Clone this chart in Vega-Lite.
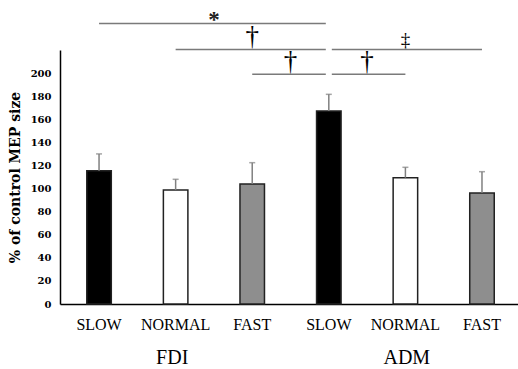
{
  "$schema": "https://vega.github.io/schema/vega-lite/v6.json",
  "width": 458,
  "height": 299,
  "autosize": {"type": "none"},
  "padding": {"left": 60, "top": 5, "right": 0, "bottom": 65},
  "background": "white",
  "config": {
    "view": {"stroke": null},
    "font": "Liberation Serif",
    "axisY": {"labelFont": "DejaVu Serif", "labelFontSize": 10, "labelFontWeight": "bold", "labelColor": "black", "labelOverlap": false, "ticks": false, "grid": false, "labelPadding": 9, "titlePadding": 8, "titleFont": "DejaVu Serif", "titleFontSize": 14, "titleFontWeight": "bold", "titleColor": "black", "domainColor": "black", "domainWidth": 1.5}
  },
  "datasets": {
    "bars": [
      {"muscle": "FDI", "speed": "SLOW", "cond": "FDI SLOW", "mean": 115.5, "upper": 130},
      {"muscle": "FDI", "speed": "NORMAL", "cond": "FDI NORMAL", "mean": 98.7, "upper": 108},
      {"muscle": "FDI", "speed": "FAST", "cond": "FDI FAST", "mean": 104, "upper": 122.4},
      {"muscle": "ADM", "speed": "SLOW", "cond": "ADM SLOW", "mean": 167.2, "upper": 181.6},
      {"muscle": "ADM", "speed": "NORMAL", "cond": "ADM NORMAL", "mean": 109.4, "upper": 118.4},
      {"muscle": "ADM", "speed": "FAST", "cond": "ADM FAST", "mean": 96.2, "upper": 114.6}
    ],
    "sig": [
      {"from": "FDI SLOW", "to": "ADM SLOW", "level": 243, "sym": "*"},
      {"from": "FDI NORMAL", "to": "ADM SLOW", "level": 220.5, "sym": "†"},
      {"from": "FDI FAST", "to": "ADM SLOW", "level": 199, "sym": "†"},
      {"from": "ADM SLOW", "to": "ADM FAST", "level": 220.5, "sym": "‡"},
      {"from": "ADM SLOW", "to": "ADM NORMAL", "level": 199, "sym": "†"}
    ]
  },
  "layer": [
    {
      "layer": [
        {
          "data": {"name": "bars"},
          "mark": {"type": "bar", "stroke": "#222222", "strokeWidth": 1.5},
          "encoding": {
            "x": {
              "field": "cond", "type": "nominal",
              "scale": {"domain": ["FDI SLOW", "FDI NORMAL", "FDI FAST", "ADM SLOW", "ADM NORMAL", "ADM FAST"], "paddingInner": 0.68, "paddingOuter": 0.33, "align": 0.53},
              "axis": {"title": null, "orient": "bottom", "labelExpr": "split(datum.value, ' ')[1]", "labelAngle": 0, "ticks": false, "labelPadding": 12, "labelFont": "Liberation Serif", "labelFontSize": 16, "labelColor": "black", "domainColor": "black", "domainWidth": 1.5}
            },
            "y": {
              "field": "mean", "type": "quantitative",
              "scale": {"domain": [0, 220], "range": [299, 45], "nice": false},
              "axis": {"values": [0, 20, 40, 60, 80, 100, 120, 140, 160, 180, 200], "title": "% of control MEP size", "labelOverlap": false}
            },
            "fill": {
              "field": "speed", "type": "nominal",
              "scale": {"domain": ["SLOW", "NORMAL", "FAST"], "range": ["#000000", "#ffffff", "#8e8e8e"]},
              "legend": null
            }
          }
        },
        {
          "data": {"name": "bars"},
          "mark": {"type": "rule", "color": "#808080", "strokeWidth": 1.5},
          "encoding": {
            "x": {"field": "cond", "type": "nominal"},
            "y": {"field": "mean", "type": "quantitative", "axis": {"values": [0, 20, 40, 60, 80, 100, 120, 140, 160, 180, 200], "title": "% of control MEP size", "labelOverlap": false}},
            "y2": {"field": "upper"}
          }
        },
        {
          "data": {"name": "bars"},
          "mark": {"type": "tick", "color": "#808080", "thickness": 1.5, "size": 6},
          "encoding": {
            "x": {"field": "cond", "type": "nominal"},
            "y": {"field": "upper", "type": "quantitative", "axis": {"values": [0, 20, 40, 60, 80, 100, 120, 140, 160, 180, 200], "title": "% of control MEP size", "labelOverlap": false}}
          }
        },
        {
          "data": {"name": "sig"},
          "transform": [{"filter": "datum.to == 'ADM SLOW'"}],
          "mark": {"type": "rule", "color": "#7a7a7a", "strokeWidth": 1.5, "x2Offset": -3},
          "encoding": {
            "x": {"field": "from", "type": "nominal"},
            "x2": {"field": "to"},
            "y": {"field": "level", "type": "quantitative", "axis": {"values": [0, 20, 40, 60, 80, 100, 120, 140, 160, 180, 200], "title": "% of control MEP size", "labelOverlap": false}}
          }
        },
        {
          "data": {"name": "sig"},
          "transform": [{"filter": "datum.from == 'ADM SLOW'"}],
          "mark": {"type": "rule", "color": "#7a7a7a", "strokeWidth": 1.5, "xOffset": 3},
          "encoding": {
            "x": {"field": "from", "type": "nominal"},
            "x2": {"field": "to"},
            "y": {"field": "level", "type": "quantitative", "axis": {"values": [0, 20, 40, 60, 80, 100, 120, 140, 160, 180, 200], "title": "% of control MEP size", "labelOverlap": false}}
          }
        }
      ]
    },
    {
      "data": {"name": "sig"},
      "transform": [
        {"filter": "datum.sym == '*'"},
        {"calculate": "(indexof(['FDI SLOW','FDI NORMAL','FDI FAST','ADM SLOW','ADM NORMAL','ADM FAST'], datum.from) + indexof(['FDI SLOW','FDI NORMAL','FDI FAST','ADM SLOW','ADM NORMAL','ADM FAST'], datum.to)) / 2", "as": "mid"}
      ],
      "mark": {"type": "text", "fontSize": 23, "fontWeight": "bold", "baseline": "alphabetic", "dy": 4, "font": "Liberation Serif", "color": "#222222"},
      "encoding": {
        "x": {"field": "mid", "type": "quantitative", "scale": {"domain": [-0.51, 5.47], "nice": false, "zero": false}, "axis": null},
        "y": {"field": "level", "type": "quantitative", "axis": {"values": [0, 20, 40, 60, 80, 100, 120, 140, 160, 180, 200], "title": "% of control MEP size", "labelOverlap": false}},
        "text": {"field": "sym"}
      }
    },
    {
      "data": {"name": "sig"},
      "transform": [
        {"filter": "datum.sym == '†'"},
        {"calculate": "(indexof(['FDI SLOW','FDI NORMAL','FDI FAST','ADM SLOW','ADM NORMAL','ADM FAST'], datum.from) + indexof(['FDI SLOW','FDI NORMAL','FDI FAST','ADM SLOW','ADM NORMAL','ADM FAST'], datum.to)) / 2", "as": "mid"}
      ],
      "mark": {"type": "text", "fontSize": 27, "baseline": "alphabetic", "dy": -4, "font": "Liberation Serif", "color": "black"},
      "encoding": {
        "x": {"field": "mid", "type": "quantitative", "scale": {"domain": [-0.51, 5.47], "nice": false, "zero": false}, "axis": null},
        "y": {"field": "level", "type": "quantitative", "axis": {"values": [0, 20, 40, 60, 80, 100, 120, 140, 160, 180, 200], "title": "% of control MEP size", "labelOverlap": false}},
        "text": {"field": "sym"}
      }
    },
    {
      "data": {"name": "sig"},
      "transform": [
        {"filter": "datum.sym == '‡'"},
        {"calculate": "(indexof(['FDI SLOW','FDI NORMAL','FDI FAST','ADM SLOW','ADM NORMAL','ADM FAST'], datum.from) + indexof(['FDI SLOW','FDI NORMAL','FDI FAST','ADM SLOW','ADM NORMAL','ADM FAST'], datum.to)) / 2", "as": "mid"}
      ],
      "mark": {"type": "text", "fontSize": 19, "baseline": "alphabetic", "dy": -3, "font": "Liberation Serif", "color": "black"},
      "encoding": {
        "x": {"field": "mid", "type": "quantitative", "scale": {"domain": [-0.51, 5.47], "nice": false, "zero": false}, "axis": null},
        "y": {"field": "level", "type": "quantitative", "axis": {"values": [0, 20, 40, 60, 80, 100, 120, 140, 160, 180, 200], "title": "% of control MEP size", "labelOverlap": false}},
        "text": {"field": "sym"}
      }
    },
    {
      "data": {"name": "bars"},
      "mark": {"type": "point", "opacity": 0},
      "encoding": {
        "x": {
          "field": "muscle", "type": "nominal",
          "scale": {"type": "point", "domain": ["FDI", "ADM"], "padding": 0.476},
          "axis": {"title": null, "orient": "bottom", "domain": false, "ticks": false, "labelPadding": 43, "labelAngle": 0, "labelFont": "Liberation Serif", "labelFontSize": 20, "labelColor": "black"}
        }
      }
    }
  ],
  "resolve": {"scale": {"x": "independent"}, "axis": {"x": "independent"}}
}
